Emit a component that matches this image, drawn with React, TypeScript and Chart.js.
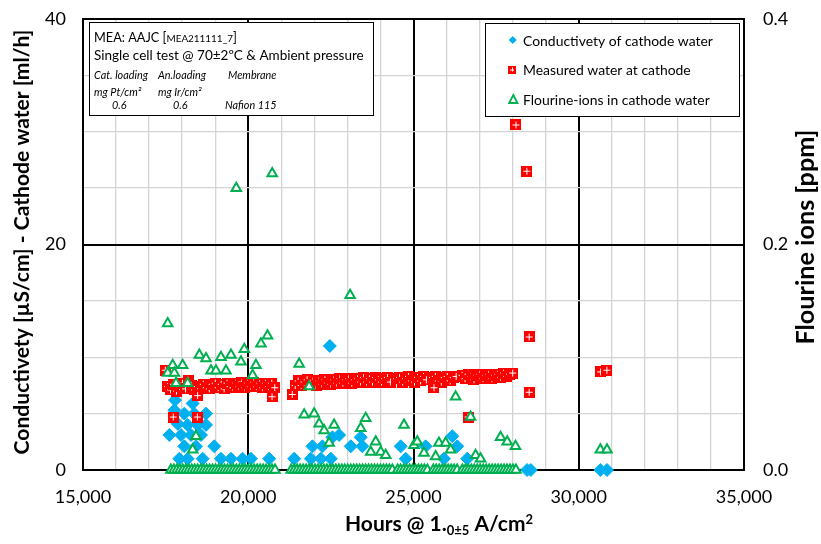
import React, { useEffect, useRef } from 'react';
import { Chart, registerables } from 'chart.js';
Chart.register(...registerables);

const FONT = 'Lato, "Liberation Sans", sans-serif';

// ---------- DATA ----------
// Conductivity of cathode water [µS/cm] : [hours, value]
const conductivity: [number, number][] = [
  [17613, 3.1], [17764, 5.3], [17785, 6.2], [17865, 4.1], [17915, 1.0], [17966, 3.1],
  [18066, 5.0], [18066, 2.1], [18166, 4.0], [18166, 1.0], [18268, 3.1], [18318, 5.9],
  [18368, 5.0], [18419, 2.1], [18468, 4.0], [18570, 3.1], [18620, 1.0], [18722, 5.0],
  [18722, 4.0], [18973, 2.1], [19174, 1.0], [19477, 1.0], [19827, 1.0], [20082, 1.0],
  [20634, 1.0],
  [21390, 1.0], [21894, 1.0], [21942, 2.1], [22196, 1.0], [22244, 2.1], [22468, 11.0],
  [22498, 1.0], [22546, 2.9], [22749, 3.1], [23102, 2.1], [23403, 2.9], [23453, 2.1],
  [24613, 2.1], [24763, 1.0], [25368, 2.1], [25921, 1.0], [26173, 3.0], [26323, 2.1],
  [26625, 1.0], [28437, 0], [28550, 0], [30654, 0], [30855, 0],
];

// Measured water at cathode [ml/h]
const waterSeg1: [number, number][] = [
  [17560, 7.4], [17650, 7.1], [17740, 7.6], [17830, 7.0], [17920, 7.4], [18010, 7.7],
  [18100, 7.2], [18190, 7.9], [18280, 7.5], [18370, 7.1], [18460, 7.4], [18550, 7.2],
  [18640, 7.6], [18730, 7.3], [18820, 7.2], [18910, 7.6], [19000, 7.7], [19090, 7.3],
  [19180, 7.6], [19270, 7.2], [19360, 7.7], [19450, 7.4], [19540, 7.3], [19630, 7.7],
  [19720, 7.4], [19810, 7.8], [19900, 7.3], [19990, 7.7], [20080, 7.4], [20170, 7.8],
  [20260, 7.4], [20350, 7.7], [20440, 7.3], [20530, 7.7], [20620, 7.4], [20710, 7.7],
  [20800, 7.3],
];
const waterSeg2: [number, number][] = [
  [21420, 7.5], [21510, 7.9], [21600, 7.5], [21690, 7.8], [21780, 8.0], [21870, 7.6],
  [21960, 7.9], [22050, 7.5], [22140, 7.9], [22230, 7.6], [22320, 8.0], [22410, 7.7],
  [22500, 7.6], [22590, 8.0], [22680, 7.7], [22770, 8.1], [22860, 7.7], [22950, 8.0],
  [23040, 8.1], [23130, 7.7], [23220, 8.0], [23310, 8.1], [23400, 7.8], [23490, 8.2],
  [23580, 7.8], [23670, 8.1], [23760, 7.8], [23850, 8.2], [23940, 8.0], [24030, 7.8],
  [24120, 8.1], [24210, 8.2], [24300, 7.8], [24490, 8.1], [24580, 8.2], [24670, 7.8],
  [24760, 8.1], [24850, 8.3], [24940, 7.9], [25030, 7.8], [25120, 8.2], [25210, 7.9],
  [25300, 8.3], [25390, 8.0], [25570, 8.2], [25660, 8.3], [25750, 7.9], [25840, 7.8],
  [25930, 8.2], [26020, 8.3], [26110, 7.9], [26200, 8.2], [26290, 8.3], [26470, 8.4],
  [26560, 8.1], [26650, 8.5], [26740, 8.3], [26830, 8.0], [26920, 8.4], [27010, 8.5],
  [27100, 8.1], [27190, 8.4], [27280, 8.5], [27370, 8.1], [27460, 8.4], [27550, 8.5],
  [27640, 8.2], [27730, 8.6], [27820, 8.3], [27910, 8.5], [28000, 8.6],
];
const waterOutliers: [number, number][] = [
  [17490, 8.85], [17730, 4.7], [18460, 4.7], [18468, 6.6], [20720, 6.5], [21330, 6.7],
  [25620, 7.3], [26650, 4.7], [28100, 30.6], [28430, 26.5], [28500, 11.8], [28500, 6.9],
  [30660, 8.7], [30850, 8.85],
];

// Flourine ions in cathode water [ppm]
const fluorineZeroHours: number[] = [
  17660, 17750, 17840, 17930, 18020, 18110, 18200, 18290, 18380, 18470, 18560, 18650,
  18740, 18830, 18920, 19010, 19100, 19190, 19280, 19370, 19460, 19550, 19640, 19730,
  19820, 19910, 20000, 20090, 20180, 20270, 20360, 20450, 20540, 20630, 20720, 20810,
  21300, 21390, 21480, 21570, 21660, 21750, 21840, 21930, 22020, 22110, 22200, 22290,
  22380, 22470, 22560, 22650, 22740, 22830, 22920, 23010, 23100, 23190, 23280, 23370,
  23460, 23550, 23640, 23730, 23820, 23910, 24000, 24090, 24180, 24270, 24360, 24520,
  24610, 24700, 24790, 24880, 24970, 25060, 25150, 25240, 25330, 25420, 25600, 25690,
  25780, 25870, 25960, 26050, 26140, 26230, 26320, 26480, 26570, 26660, 26750, 26840,
  26930, 27020, 27110, 27200, 27290, 27380, 27470, 27560, 27650, 27740, 27830, 27920,
  28010, 28100,
];
const fluorine: [number, number][] = [
  [17563, 0.130], [17563, 0.086], [17713, 0.093], [17764, 0.086], [17815, 0.077],
  [18015, 0.093], [18166, 0.077], [18318, 0.018], [18419, 0.030], [18520, 0.102],
  [18722, 0.099], [18873, 0.088], [19023, 0.088], [19174, 0.100], [19326, 0.088],
  [19477, 0.102], [19637, 0.250], [19779, 0.096], [19880, 0.107], [20131, 0.084],
  [20232, 0.093], [20385, 0.112], [20583, 0.119], [20725, 0.263],
  [21540, 0.094], [21692, 0.049], [21843, 0.074], [21994, 0.050], [22145, 0.041],
  [22296, 0.035], [22447, 0.024], [22598, 0.040], [23082, 0.155], [23403, 0.037],
  [23554, 0.046], [23706, 0.016], [23857, 0.025], [24009, 0.016], [24160, 0.013],
  [24713, 0.040], [25014, 0.022], [25114, 0.025], [25317, 0.015], [25670, 0.012],
  [25770, 0.024], [25972, 0.024], [26123, 0.018], [26274, 0.065], [26727, 0.047],
  [26878, 0.013], [27029, 0.010], [27633, 0.029], [27835, 0.025], [28086, 0.021],
  [30654, 0.018], [30855, 0.018],
];

const xTickLabels = ['15,000', '20,000', '25,000', '30,000', '35,000'];
const yTickLabels = ['0', '20', '40'];
const y2TickLabels = ['0.0', '0.2', '0.4'];

const legendLabels = [
  'Conductivety of cathode water',
  'Measured water at cathode',
  'Flourine-ions in cathode water',
];

// ---------- helpers ----------
const BLUE = '#00B0F0';
const RED = '#FF0000';
const GREEN = '#00B050';

function makeRedMarker(size: number): HTMLCanvasElement {
  const c = document.createElement('canvas');
  c.width = size;
  c.height = size;
  const g = c.getContext('2d')!;
  g.fillStyle = RED;
  g.fillRect(0, 0, size, size);
  g.fillStyle = '#fff';
  const m = Math.floor(size / 2);
  g.fillRect(2, m, size - 4, 1);
  g.fillRect(m, 2, 1, size - 4);
  return c;
}

function fontStr(spec: string, size: number) {
  return `${spec} ${size}px ${FONT}`;
}
function widthAt(ctx: CanvasRenderingContext2D, text: string, spec: string) {
  ctx.font = fontStr(spec, 100);
  return ctx.measureText(text).width / 100;
}
function fitSize(ctx: CanvasRenderingContext2D, text: string, spec: string, target: number) {
  return target / widthAt(ctx, text, spec);
}

const redMarker = typeof document !== 'undefined' ? makeRedMarker(11) : (null as any);
const redMarkerSmall = typeof document !== 'undefined' ? makeRedMarker(8) : (null as any);

const overlayPlugin = {
  id: 'overlay',
  afterDraw(chart: any) {
    const ctx: CanvasRenderingContext2D = chart.ctx;
    ctx.save();
    ctx.textAlign = 'left';
    ctx.textBaseline = 'alphabetic';

    // ---- info box ----
    ctx.fillStyle = '#fff';
    ctx.fillRect(89, 22, 284, 93);
    ctx.strokeStyle = '#000';
    ctx.lineWidth = 1;
    ctx.strokeRect(89.5, 22.5, 284, 93);
    ctx.fillStyle = '#000';

    const p1 = 'MEA: AAJC [', p2 = 'MEA211111_7', p3 = ']';
    const k = 0.78;
    const unit = widthAt(ctx, p1, 'normal') + widthAt(ctx, p3, 'normal') + k * widthAt(ctx, p2, 'normal');
    const s1 = 143 / unit;
    let x = 94;
    ctx.font = fontStr('normal', s1);
    ctx.fillText(p1, x, 42);
    x += ctx.measureText(p1).width;
    ctx.font = fontStr('normal', s1 * k);
    ctx.fillText(p2, x, 42);
    x += ctx.measureText(p2).width;
    ctx.font = fontStr('normal', s1);
    ctx.fillText(p3, x, 42);

    const line2 = 'Single cell test @ 70±2ºC & Ambient pressure';
    const s2 = fitSize(ctx, line2, 'normal', 270);
    ctx.font = fontStr('normal', s2);
    ctx.fillText(line2, 94, 59.5);

    const si = fitSize(ctx, 'Cat. loading', 'italic', 54);
    ctx.font = fontStr('italic', si);
    ctx.fillText('Cat. loading', 94, 79);
    ctx.fillText('An.loading', 158, 79);
    ctx.fillText('Membrane', 228, 79);
    ctx.fillText('mg Pt/cm²', 94, 96);
    ctx.fillText('mg Ir/cm²', 158, 96);
    ctx.fillText('0.6', 112, 109);
    ctx.fillText('0.6', 173, 109);
    ctx.fillText('Nafion 115', 225, 109);

    // ---- legend ----
    ctx.fillStyle = '#fff';
    ctx.fillRect(485, 23, 254, 93);
    ctx.strokeStyle = '#000';
    ctx.lineWidth = 1;
    ctx.strokeRect(485.5, 23.5, 254, 93);
    const sl = fitSize(ctx, legendLabels[0], 'normal', 190);
    ctx.font = fontStr('normal', sl);
    ctx.fillStyle = '#000';
    const ly = [40, 69.5, 99.5];
    legendLabels.forEach((t, i) => ctx.fillText(t, 523, ly[i] + 5.5));
    // markers
    ctx.fillStyle = BLUE;
    ctx.beginPath();
    ctx.moveTo(512.7, ly[0] - 4);
    ctx.lineTo(516.7, ly[0]);
    ctx.lineTo(512.7, ly[0] + 4);
    ctx.lineTo(508.7, ly[0]);
    ctx.closePath();
    ctx.fill();
    ctx.drawImage(redMarkerSmall, 508, ly[1] - 4);
    ctx.strokeStyle = GREEN;
    ctx.lineWidth = 1.8;
    ctx.fillStyle = '#fff';
    ctx.beginPath();
    ctx.moveTo(513.3, ly[2] - 4.5);
    ctx.lineTo(517.5, ly[2] + 3.5);
    ctx.lineTo(509.1, ly[2] + 3.5);
    ctx.closePath();
    ctx.fill();
    ctx.stroke();

    // ---- axis titles ----
    ctx.fillStyle = '#000';
    ctx.textAlign = 'center';
    ctx.textBaseline = 'middle';
    const leftTitle = 'Conductivety [µS/cm] - Cathode water [ml/h]';
    const sLT = fitSize(ctx, leftTitle, 'bold', 425);
    ctx.save();
    ctx.translate(22, 242);
    ctx.rotate(-Math.PI / 2);
    ctx.font = fontStr('bold', sLT);
    ctx.fillText(leftTitle, 0, 0);
    ctx.restore();

    const rightTitle = 'Flourine ions [ppm]';
    const sRT = fitSize(ctx, rightTitle, 'bold', 215);
    ctx.save();
    ctx.translate(806, 237);
    ctx.rotate(-Math.PI / 2);
    ctx.font = fontStr('bold', sRT);
    ctx.fillText(rightTitle, 0, 0);
    ctx.restore();

    // x title with subscript/superscript
    const xa = 'Hours @ 1.', xb = '0±5', xc = ' A/cm', xd = '2';
    const ks = 0.62;
    const u = widthAt(ctx, xa, 'bold') + widthAt(ctx, xc, 'bold') + ks * (widthAt(ctx, xb, 'bold') + widthAt(ctx, xd, 'bold'));
    const sx = 188 / u;
    ctx.textAlign = 'left';
    ctx.textBaseline = 'alphabetic';
    let cx = 439 - 94;
    const base = 531;
    ctx.font = fontStr('bold', sx);
    ctx.fillText(xa, cx, base);
    cx += ctx.measureText(xa).width;
    ctx.font = fontStr('bold', sx * ks);
    ctx.fillText(xb, cx, base + 4);
    cx += ctx.measureText(xb).width;
    ctx.font = fontStr('bold', sx);
    ctx.fillText(xc, cx, base);
    cx += ctx.measureText(xc).width;
    ctx.font = fontStr('bold', sx * ks);
    ctx.fillText(xd, cx, base - 7);

    ctx.restore();
  },
};

const near = (v: number, step: number) => Math.abs(v / step - Math.round(v / step)) < 1e-6;

export default function App() {
  const ref = useRef<HTMLCanvasElement>(null);

  useEffect(() => {
    const canvas = ref.current!;
    const tickFont = { family: FONT, size: 18 };

    const waterAll = [...waterSeg1, ...waterSeg2, ...waterOutliers];
    const fluorineAll: [number, number][] = [
      ...fluorineZeroHours.map((h) => [h, 0] as [number, number]),
      ...fluorine,
    ];

    const chart = new Chart(canvas, {
      type: 'scatter',
      data: {
        datasets: [
          {
            label: legendLabels[0],
            data: conductivity.map(([x, y]) => ({ x, y })),
            yAxisID: 'y',
            pointStyle: 'rectRot',
            pointRadius: 6.5,
            backgroundColor: BLUE,
            borderColor: BLUE,
            borderWidth: 1,
            order: 3,
            clip: false,
          },
          {
            label: legendLabels[1],
            data: waterAll.map(([x, y]) => ({ x, y })),
            yAxisID: 'y',
            pointStyle: redMarker,
            pointRadius: 5.5,
            order: 2,
            clip: false,
          },
          {
            label: legendLabels[2],
            data: fluorineAll.map(([x, y]) => ({ x, y })),
            yAxisID: 'y2',
            pointStyle: 'triangle',
            pointRadius: 5.5,
            backgroundColor: '#fff',
            borderColor: GREEN,
            borderWidth: 2,
            order: 1,
            clip: false,
          },
        ] as any,
      },
      options: {
        animation: false,
        responsive: false,
        maintainAspectRatio: false,
        events: [],
        layout: { padding: { top: 19, left: 0, right: 0, bottom: 0 } },
        plugins: { legend: { display: false }, tooltip: { enabled: false } },
        scales: {
          x: {
            type: 'linear',
            min: 15000,
            max: 35000,
            ticks: {
              stepSize: 1000,
              autoSkip: false,
              maxRotation: 0,
              padding: 16,
              color: '#000',
              font: tickFont,
              callback: (v: any) => (near(v, 5000) ? xTickLabels[Math.round((v - 15000) / 5000)] : ''),
            },
            grid: {
              drawTicks: false,
              color: (c: any) => (near(c.tick.value, 5000) ? '#000' : '#d4d4d4'),
              lineWidth: (c: any) => (near(c.tick.value, 5000) ? 2 : 1.3),
            },
            border: { display: true, color: '#000', width: 2 },
            afterFit: (s: any) => {
              s.height = 74;
              s.paddingLeft = 0;
              s.paddingRight = 0;
            },
          },
          y: {
            type: 'linear',
            position: 'left',
            min: 0,
            max: 40,
            ticks: {
              stepSize: 5,
              autoSkip: false,
              padding: 17,
              color: '#000',
              font: tickFont,
              callback: (v: any) => (near(v, 20) ? yTickLabels[Math.round(v / 20)] : ''),
            },
            grid: {
              drawTicks: false,
              color: (c: any) => (near(c.tick.value, 20) ? '#000' : '#d4d4d4'),
              lineWidth: (c: any) => (near(c.tick.value, 20) ? 2 : 1.3),
            },
            border: { display: true, color: '#000', width: 2 },
            afterFit: (s: any) => {
              s.width = 83;
              s.paddingTop = 0;
              s.paddingBottom = 0;
            },
          },
          y2: {
            type: 'linear',
            position: 'right',
            min: 0,
            max: 0.4,
            ticks: {
              stepSize: 0.05,
              autoSkip: false,
              padding: 19,
              color: '#000',
              font: tickFont,
              callback: (v: any) => (near(v, 0.2) ? y2TickLabels[Math.round(v / 0.2)] : ''),
            },
            grid: { drawOnChartArea: false, drawTicks: false },
            border: { display: true, color: '#000', width: 2 },
            afterFit: (s: any) => {
              s.width = 77;
              s.paddingTop = 0;
              s.paddingBottom = 0;
            },
          },
        },
      } as any,
      plugins: [overlayPlugin],
    });
    return () => chart.destroy();
  }, []);

  return (
    <div style={{ position: 'absolute', left: 0, top: 0, width: 821, height: 544, background: '#fff' }}>
      <canvas ref={ref} width={821} height={544} style={{ width: 821, height: 544, display: 'block' }} />
    </div>
  );
}
